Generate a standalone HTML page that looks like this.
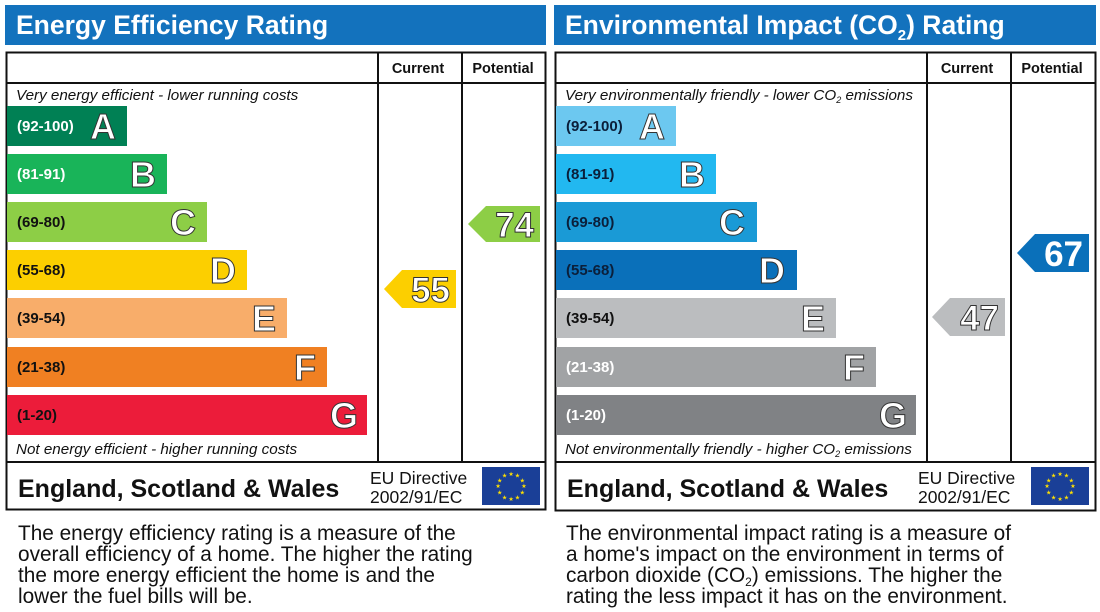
<!DOCTYPE html>
<html><head><meta charset="utf-8"><style>
html,body{margin:0;padding:0;background:#fff;width:1100px;height:612px;overflow:hidden}
svg{display:block;font-family:"Liberation Sans",Arial,sans-serif}
.rl{font-size:15px;font-weight:bold;fill:#111}
.lt{font-size:36px;font-weight:bold;fill:#fff;stroke:#333;stroke-width:1;text-anchor:end}
.num{font-size:35px;font-weight:bold;fill:#fff;stroke:#333;stroke-width:1;text-anchor:end}
.hd{font-size:14.5px;font-weight:bold;fill:#111;text-anchor:middle}
.it{font-size:15.2px;font-style:italic;fill:#111}
.ft{font-size:25px;font-weight:bold;fill:#111}
.eu{font-size:17.5px;fill:#111}
.bt{font-size:20.8px;fill:#111}
.ttl{font-size:26.5px;font-weight:bold;fill:#fff}
.st{font-size:6px;fill:#ffe000;text-anchor:middle}
</style></head><body>
<svg width="1100" height="612" viewBox="0 0 1100 612">
<defs>
<g id="flag">
<rect x="0" y="0" width="58" height="38" fill="#1a3f97"/>
<g transform="translate(29,19)">
<text class="st" x="0" y="-10">★</text><text class="st" x="6.5" y="-8.3">★</text><text class="st" x="11.3" y="-3.5">★</text>
<text class="st" x="13" y="2">★</text><text class="st" x="11.3" y="8.5">★</text><text class="st" x="6.5" y="13.3">★</text>
<text class="st" x="0" y="15">★</text><text class="st" x="-6.5" y="13.3">★</text><text class="st" x="-11.3" y="8.5">★</text>
<text class="st" x="-13" y="2">★</text><text class="st" x="-11.3" y="-3.5">★</text><text class="st" x="-6.5" y="-8.3">★</text>
</g></g>
</defs>

<!-- LEFT PANEL -->
<rect x="5" y="5" width="541" height="40" fill="#1372bd"/>
<text class="ttl" x="16" y="34">Energy Efficiency Rating</text>
<rect x="6.5" y="52.5" width="539" height="457" fill="none" stroke="#111" stroke-width="2"/>
<line x1="6" y1="83" x2="546" y2="83" stroke="#111" stroke-width="2"/>
<line x1="6" y1="462" x2="546" y2="462" stroke="#111" stroke-width="2"/>
<line x1="378" y1="52" x2="378" y2="462" stroke="#111" stroke-width="2"/>
<line x1="462" y1="52" x2="462" y2="462" stroke="#111" stroke-width="2"/>
<text class="hd" x="418" y="73">Current</text>
<text class="hd" x="503" y="73">Potential</text>
<text class="it" x="16" y="100">Very energy efficient - lower running costs</text>

<rect x="7" y="106" width="120" height="40" fill="#008054"/><text class="rl" x="17" y="131" style="fill:#fff">(92-100)</text><text class="lt" x="116" y="139">A</text>
<rect x="7" y="154" width="160" height="40" fill="#19b459"/><text class="rl" x="17" y="179" style="fill:#fff">(81-91)</text><text class="lt" x="156" y="187">B</text>
<rect x="7" y="202" width="200" height="40" fill="#8dce46"/><text class="rl" x="17" y="227">(69-80)</text><text class="lt" x="196" y="235">C</text>
<rect x="7" y="250" width="240" height="40" fill="#fccf00"/><text class="rl" x="17" y="275">(55-68)</text><text class="lt" x="236" y="283">D</text>
<rect x="7" y="298" width="280" height="40" fill="#f8ad6a"/><text class="rl" x="17" y="323">(39-54)</text><text class="lt" x="276" y="331">E</text>
<rect x="7" y="347" width="320" height="40" fill="#f08022"/><text class="rl" x="17" y="372">(21-38)</text><text class="lt" x="316" y="380">F</text>
<rect x="7" y="395" width="360" height="40" fill="#ec1c3a"/><text class="rl" x="17" y="420">(1-20)</text><text class="lt" x="358" y="428">G</text>
<text class="it" x="16" y="454">Not energy efficient - higher running costs</text>

<polygon points="384,289 402,270 456,270 456,308 402,308" fill="#fccf00"/><text class="num" x="450" y="302">55</text>
<polygon points="468,224 486,206 540,206 540,242 486,242" fill="#8dce46"/><text class="num" x="534" y="237">74</text>

<text class="ft" x="18" y="497">England, Scotland &amp; Wales</text>
<text class="eu" x="370" y="484">EU Directive</text>
<text class="eu" x="370" y="503">2002/91/EC</text>
<use href="#flag" x="482" y="467"/>

<text class="bt" x="18" y="540">The energy efficiency rating is a measure of the</text>
<text class="bt" x="18" y="561">overall efficiency of a home. The higher the rating</text>
<text class="bt" x="18" y="582">the more energy efficient the home is and the</text>
<text class="bt" x="18" y="603">lower the fuel bills will be.</text>

<!-- RIGHT PANEL -->
<rect x="554" y="5" width="542" height="40" fill="#1372bd"/>
<text class="ttl" x="565" y="34">Environmental Impact (CO<tspan font-size="15" dy="6">2</tspan><tspan dy="-6">) Rating</tspan></text>
<rect x="555.5" y="52.5" width="540" height="458" fill="none" stroke="#111" stroke-width="2"/>
<line x1="555" y1="83" x2="1096" y2="83" stroke="#111" stroke-width="2"/>
<line x1="555" y1="462" x2="1096" y2="462" stroke="#111" stroke-width="2"/>
<line x1="927" y1="52" x2="927" y2="462" stroke="#111" stroke-width="2"/>
<line x1="1011" y1="52" x2="1011" y2="462" stroke="#111" stroke-width="2"/>
<text class="hd" x="967" y="73">Current</text>
<text class="hd" x="1052" y="73">Potential</text>
<text class="it" x="565" y="100">Very environmentally friendly - lower CO<tspan font-size="9" dy="3">2</tspan><tspan dy="-3"> emissions</tspan></text>

<rect x="556" y="106" width="120" height="40" fill="#6cc8f0"/><text class="rl" x="566" y="131" style="fill:#0b1f3a">(92-100)</text><text class="lt" x="665" y="139">A</text>
<rect x="556" y="154" width="160" height="40" fill="#22b8f0"/><text class="rl" x="566" y="179" style="fill:#0b1f3a">(81-91)</text><text class="lt" x="705" y="187">B</text>
<rect x="556" y="202" width="201" height="40" fill="#1a9ad6"/><text class="rl" x="566" y="227" style="fill:#0b1f3a">(69-80)</text><text class="lt" x="745" y="235">C</text>
<rect x="556" y="250" width="241" height="40" fill="#0a70ba"/><text class="rl" x="566" y="275" style="fill:#0b1f3a">(55-68)</text><text class="lt" x="785" y="283">D</text>
<rect x="556" y="298" width="280" height="40" fill="#bbbdbf"/><text class="rl" x="566" y="323">(39-54)</text><text class="lt" x="825" y="331">E</text>
<rect x="556" y="347" width="320" height="40" fill="#a1a3a5"/><text class="rl" x="566" y="372" style="fill:#fff">(21-38)</text><text class="lt" x="865" y="380">F</text>
<rect x="556" y="395" width="360" height="40" fill="#808285"/><text class="rl" x="566" y="420" style="fill:#fff">(1-20)</text><text class="lt" x="907" y="428">G</text>
<text class="it" x="565" y="454">Not environmentally friendly - higher CO<tspan font-size="9" dy="3">2</tspan><tspan dy="-3"> emissions</tspan></text>

<polygon points="932,317 950,298 1005,298 1005,336 950,336" fill="#bbbdbf"/><text class="num" x="999" y="330">47</text>
<polygon points="1017,253 1035,234 1089,234 1089,272 1035,272" fill="#0a70ba"/><text class="num" x="1083" y="266" style="stroke:none">67</text>

<text class="ft" x="567" y="497">England, Scotland &amp; Wales</text>
<text class="eu" x="918" y="484">EU Directive</text>
<text class="eu" x="918" y="503">2002/91/EC</text>
<use href="#flag" x="1031" y="467"/>

<text class="bt" x="566" y="540">The environmental impact rating is a measure of</text>
<text class="bt" x="566" y="561">a home's impact on the environment in terms of</text>
<text class="bt" x="566" y="582">carbon dioxide (CO<tspan font-size="12" dy="4">2</tspan><tspan dy="-4">) emissions. The higher the</tspan></text>
<text class="bt" x="566" y="603">rating the less impact it has on the environment.</text>
</svg>
</body></html>
